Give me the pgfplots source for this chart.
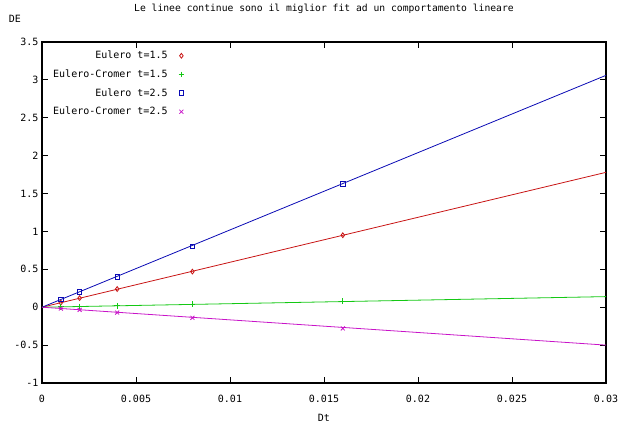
\documentclass[border=0pt]{standalone}
\usepackage{pgfplots}
\pgfplotsset{compat=1.18}
\usepackage{fontspec}
\setmainfont{DejaVu Sans Mono}
\definecolor{gred}{RGB}{200,20,20}
\definecolor{ggreen}{RGB}{20,200,20}
\definecolor{gblue}{RGB}{10,10,180}
\definecolor{gmag}{RGB}{200,20,200}
\begin{document}
\begin{tikzpicture}[font=\fontsize{10}{12}\selectfont]
\useasboundingbox (-42pt,-54pt) rectangle (585pt,383pt);
\begin{axis}[
  at={(0pt,0pt)}, anchor=south west,
  scale only axis, width=564pt, height=341pt,
  xmin=0, xmax=0.03, ymin=-1, ymax=3.5,
  xtick={0,0.005,...,0.03}, ytick={-1,-0.5,...,3.5},
  scaled x ticks=false,
  /pgf/number format/.cd, fixed, precision=3, assume math mode=true,
  /pgfplots/.cd,
  tick align=inside, major tick length=6pt,
  every tick/.style={black, line width=0.8pt},
  axis line style={line width=1.2pt},
  xticklabel style={yshift=-9pt},
  title={Le linee continue sono il miglior fit ad un comportamento lineare},
  title style={at={(axis description cs:0.5,1)}, anchor=center, yshift=27pt, font=\fontsize{9.7}{12}\selectfont},
  xlabel={Dt},
  xlabel style={at={(axis description cs:0.5,0)}, anchor=center, yshift=-35pt},
  ylabel={DE},
  every axis y label/.style={at={(axis description cs:0,1)}, anchor=center, xshift=-27pt, yshift=23pt},
  legend style={at={(axis description cs:0,1)}, anchor=north west, draw=none, fill=none,
    xshift=6pt, yshift=-5pt, row sep=5.5pt, font=\fontsize{10}{12}\selectfont,
    /tikz/every odd column/.append style={column sep=9pt}},
  legend cell align=right, legend plot pos=right,
]
\addplot[gred, only marks, mark=diamond, mark size=2.4pt, mark options={line width=0.8pt}] coordinates {(0.001,0.06) (0.002,0.12) (0.004,0.24) (0.008,0.47) (0.016,0.95)};
\addlegendentry{Eulero t=1.5}
\addplot[ggreen, only marks, mark=+, mark size=2.8pt, mark options={line width=0.8pt}] coordinates {(0.001,0.005) (0.002,0.01) (0.004,0.02) (0.008,0.04) (0.016,0.08)};
\addlegendentry{Eulero-Cromer t=1.5}
\addplot[gblue, only marks, mark=square, mark size=2.2pt, mark options={line width=0.8pt}] coordinates {(0.001,0.1) (0.002,0.2) (0.004,0.4) (0.008,0.8) (0.016,1.63)};
\addlegendentry{Eulero t=2.5}
\addplot[gmag, only marks, mark=x, mark size=2.8pt, mark options={line width=0.8pt}] coordinates {(0.001,-0.018) (0.002,-0.035) (0.004,-0.07) (0.008,-0.14) (0.016,-0.28)};
\addlegendentry{Eulero-Cromer t=2.5}
\addplot[gred, line width=0.8pt, forget plot] coordinates {(0,0) (0.03,1.78)};
\addplot[ggreen, line width=0.8pt, forget plot] coordinates {(0,0) (0.03,0.14)};
\addplot[gblue, line width=0.8pt, forget plot] coordinates {(0,0) (0.03,3.06)};
\addplot[gmag, line width=0.8pt, forget plot] coordinates {(0,0) (0.03,-0.50)};
\end{axis}
\end{tikzpicture}
\end{document}
